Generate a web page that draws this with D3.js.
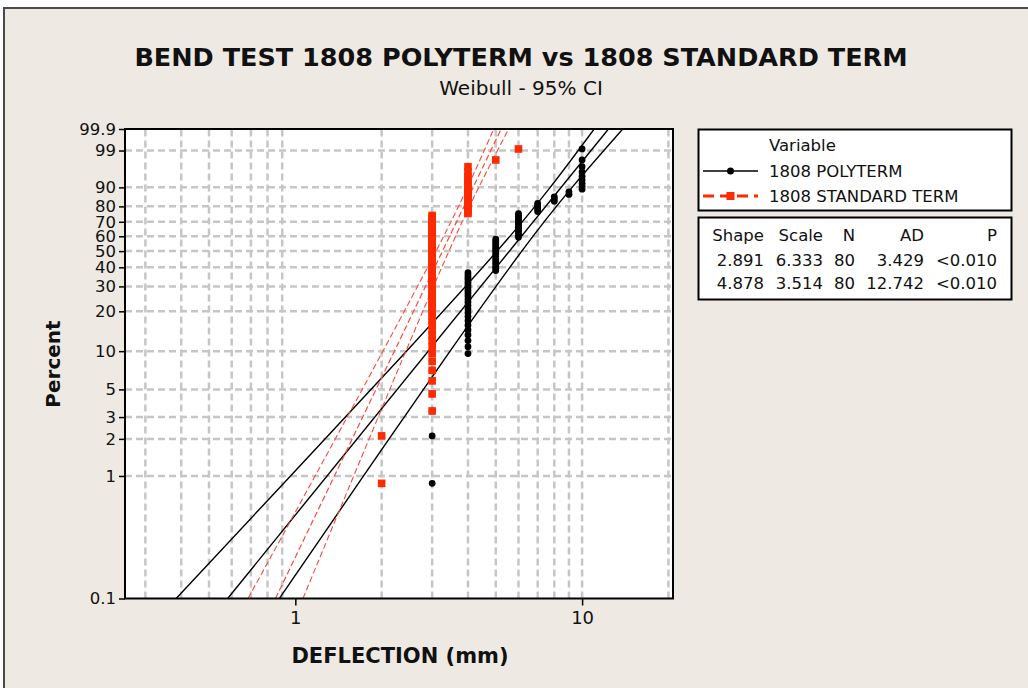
<!DOCTYPE html>
<html><head><meta charset="utf-8">
<script src="https://cdn.jsdelivr.net/npm/d3@7"></script>
<style>
body{margin:0;background:#fff}
svg{display:block}
text{font-family:"DejaVu Sans",Verdana,sans-serif;fill:#111}
</style>
</head><body>
<svg id="c" width="1028" height="688"></svg>
<script>
// ---------------- data ----------------
const polyDeflection = [3, 4, 5, 6, 7, 8, 9, 10];
const polyCount      = [7, 23, 17, 14, 5, 3, 2, 9];
const stdDeflection  = [2, 3, 4, 5, 6];
const stdCount       = [2, 58, 18, 1, 1];

const seriesNames = ["1808 POLYTERM", "1808 STANDARD TERM"];
const shapeVals = [2.891, 4.878];
const scaleVals = [6.333, 3.514];
const nVals     = [80, 80];
const adVals    = ["3.429", "12.742"];
const pVals     = ["<0.010", "<0.010"];

// 95% CI bounds (deflection, mm) read at these percents
const ciPercent = [0.1, 1, 10, 50, 90, 99.9];
const polyLower = [0.384, 0.962, 2.441, 5.051, 7.741, 11.02];
const polyUpper = [0.880, 1.729, 3.464, 6.162, 9.227, 13.86];
const stdLower  = [0.684, 1.172, 2.020, 3.095, 3.985, 4.918];
const stdUpper  = [1.063, 1.598, 2.429, 3.433, 4.362, 5.545];

const yTicks = [0.1, 1, 2, 3, 5, 10, 20, 30, 40, 50, 60, 70, 80, 90, 99, 99.9];
const yGrid  = [1, 2, 3, 5, 10, 20, 30, 40, 50, 60, 70, 80, 90, 99];
const xTicks = [1, 10];
const xGrid  = [0.3, 0.4, 0.5, 0.6, 0.7, 0.8, 0.9, 2, 3, 4, 5, 6, 7, 8, 9, 10, 20];

// ---------------- layout ----------------
const svg = d3.select("#c");
const L = 125, R = 673, T = 129, B = 598.5;
const BLACK = "#000", RED = "#ff2a00", REDLINE = "#ff4a3a";

svg.append("rect").attr("x", 4).attr("y", 8).attr("width", 1040).attr("height", 700)
  .attr("fill", "#eeeae3").attr("stroke", "#4a4a4a").attr("stroke-width", 2);

const wf = p => Math.log(-Math.log(1 - p / 100));
const x = d3.scaleLog().domain([0.2547, 20.75]).range([L, R]);
const yw = d3.scaleLinear().domain([wf(0.1), wf(99.9)]).range([B, T]);
const y = p => yw(wf(p));

// plot background
svg.append("rect").attr("x", L).attr("y", T).attr("width", R - L).attr("height", B - T).attr("fill", "#fff");

svg.append("clipPath").attr("id", "clip").append("rect")
  .attr("x", L).attr("y", T).attr("width", R - L).attr("height", B - T);

// grid
const grid = svg.append("g").attr("stroke", "#c6c6c6").attr("stroke-width", 2.5).attr("stroke-dasharray", "7,4");
grid.selectAll("line.h").data(yGrid).join("line").attr("class", "h")
  .attr("x1", L).attr("x2", R).attr("y1", d => y(d)).attr("y2", d => y(d));
grid.selectAll("line.v").data(xGrid).join("line").attr("class", "v")
  .attr("x1", d => x(d)).attr("x2", d => x(d)).attr("y1", B).attr("y2", T);

// axes
const yAx = svg.append("g").attr("transform", `translate(${L},0)`)
  .call(d3.axisLeft(yw).tickValues(yTicks.map(wf)).tickSize(6).tickPadding(3)
    .tickFormat((d, i) => String(yTicks[i])));
yAx.select(".domain").remove();
yAx.selectAll("line").attr("stroke", "#000").attr("stroke-width", 1.5);
yAx.selectAll("text").attr("font-size", 16.5).attr("fill", "#111")
  .attr("font-family", '"DejaVu Sans",Verdana,sans-serif');

const xAx = svg.append("g").attr("transform", `translate(0,${B})`)
  .call(d3.axisBottom(x).tickValues(xTicks).tickSize(7).tickPadding(6).tickFormat(d3.format("d")));
xAx.select(".domain").remove();
xAx.selectAll("line").attr("stroke", "#000").attr("stroke-width", 1.5);
xAx.selectAll("text").attr("font-size", 18).attr("fill", "#111")
  .attr("font-family", '"DejaVu Sans",Verdana,sans-serif');

// lines
const plot = svg.append("g").attr("clip-path", "url(#clip)");
const ciLine = d3.line().curve(d3.curveNatural);
function ciPath(vals) { return ciLine(ciPercent.map((p, i) => [x(vals[i]), y(p)])); }
function fitPath(k) {
  const q = p => scaleVals[k] * Math.pow(-Math.log(1 - p / 100), 1 / shapeVals[k]);
  return d3.line()([[x(q(0.1)), y(0.1)], [x(q(99.9)), y(99.9)]]);
}
// polyterm
[polyLower, polyUpper].forEach(v => plot.append("path").attr("d", ciPath(v))
  .attr("fill", "none").attr("stroke", BLACK).attr("stroke-width", 1.4));
plot.append("path").attr("d", fitPath(0)).attr("fill", "none").attr("stroke", BLACK).attr("stroke-width", 1.4);
// standard
[stdLower, stdUpper].forEach(v => plot.append("path").attr("d", ciPath(v))
  .attr("fill", "none").attr("stroke", REDLINE).attr("stroke-width", 1.1).attr("stroke-dasharray", "6,3"));
plot.append("path").attr("d", fitPath(1)).attr("fill", "none").attr("stroke", REDLINE)
  .attr("stroke-width", 1.2).attr("stroke-dasharray", "6,3");

// points (median-rank plotting positions)
function expand(xs, cs) {
  const n = d3.sum(cs), pts = [];
  let i = 1;
  xs.forEach((xv, k) => { for (let j = 0; j < cs[k]; j++, i++) pts.push({ x: xv, p: 100 * (i - 0.3) / (n + 0.4) }); });
  return pts;
}
const polyPts = expand(polyDeflection, polyCount);
const stdPts = expand(stdDeflection, stdCount);
svg.append("g").selectAll("circle").data(polyPts).join("circle")
  .attr("cx", d => x(d.x)).attr("cy", d => y(d.p)).attr("r", 3.4).attr("fill", BLACK);
svg.append("g").selectAll("rect").data(stdPts).join("rect")
  .attr("x", d => x(d.x) - 3.8).attr("y", d => y(d.p) - 3.8).attr("width", 7.6).attr("height", 7.6).attr("fill", RED);

// plot border
svg.append("rect").attr("x", L).attr("y", T).attr("width", R - L).attr("height", B - T)
  .attr("fill", "none").attr("stroke", "#000").attr("stroke-width", 2);

// titles
svg.append("text").attr("x", 521).attr("y", 66).attr("text-anchor", "middle")
  .attr("font-size", 25.5).attr("font-weight", "bold").text("BEND TEST 1808 POLYTERM vs 1808 STANDARD TERM");
svg.append("text").attr("x", 521).attr("y", 95).attr("text-anchor", "middle")
  .attr("font-size", 20).text("Weibull - 95% CI");
svg.append("text").attr("transform", "translate(60,364) rotate(-90)").attr("text-anchor", "middle")
  .attr("font-size", 20).attr("font-weight", "bold").text("Percent");
svg.append("text").attr("x", 400).attr("y", 663).attr("text-anchor", "middle")
  .attr("font-size", 21).attr("font-weight", "bold").text("DEFLECTION (mm)");

// legend
const lg = svg.append("g");
lg.append("rect").attr("x", 698.5).attr("y", 129.5).attr("width", 313).attr("height", 81)
  .attr("fill", "#fff").attr("stroke", "#000").attr("stroke-width", 2);
lg.append("text").attr("x", 769).attr("y", 151).attr("font-size", 16.5).text("Variable");
lg.append("line").attr("x1", 703).attr("x2", 758).attr("y1", 171).attr("y2", 171)
  .attr("stroke", BLACK).attr("stroke-width", 1.4);
lg.append("circle").attr("cx", 730.5).attr("cy", 171).attr("r", 3.5).attr("fill", BLACK);
lg.append("text").attr("x", 769).attr("y", 176.5).attr("font-size", 16.5).text(seriesNames[0]);
lg.append("line").attr("x1", 703).attr("x2", 758).attr("y1", 196).attr("y2", 196)
  .attr("stroke", RED).attr("stroke-width", 3).attr("stroke-dasharray", "11,6");
lg.append("rect").attr("x", 726.5).attr("y", 192).attr("width", 8).attr("height", 8).attr("fill", RED);
lg.append("text").attr("x", 769).attr("y", 201.5).attr("font-size", 16.5).text(seriesNames[1]);

// stats table
const tb = svg.append("g");
tb.append("rect").attr("x", 698.5).attr("y", 217.5).attr("width", 313).attr("height", 82)
  .attr("fill", "#fff").attr("stroke", "#000").attr("stroke-width", 2);
const colX = [764, 823, 855, 924, 997];
const header = ["Shape", "Scale", "N", "AD", "P"];
header.forEach((h, i) => tb.append("text").attr("x", colX[i]).attr("y", 240.5)
  .attr("text-anchor", "end").attr("font-size", 16.5).text(h));
[0, 1].forEach(r => {
  const row = [shapeVals[r].toFixed(3), scaleVals[r].toFixed(3), String(nVals[r]), adVals[r], pVals[r]];
  row.forEach((v, i) => tb.append("text").attr("x", colX[i]).attr("y", 265.5 + r * 23.5)
    .attr("text-anchor", "end").attr("font-size", 16.5).text(v));
});
</script>
</body></html>
